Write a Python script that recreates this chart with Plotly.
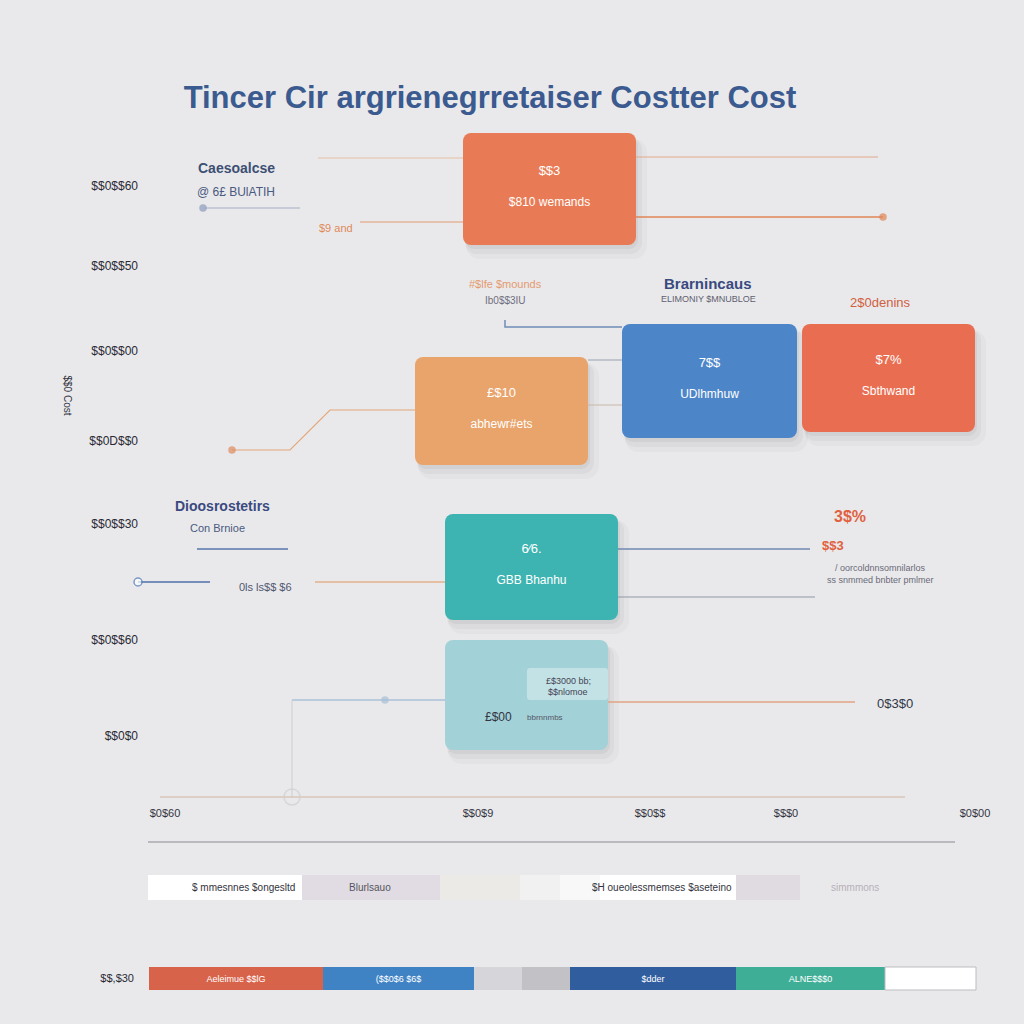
import plotly.graph_objects as go

# ---------------- data ----------------
title_text = "Tincer Cir argrienegrretaiser Costter Cost"

# cost boxes (x = start / length in cost units, y = centre / thickness in value units)
box_start = [313, 265, 472, 652, 295, 295]
box_length = [173, 173, 175, 173, 173, 163]
box_center = [611, 389, 419, 422, 233, 105]
box_thick = [112, 108, 114, 108, 106, 110]
box_colors = ["#e87b55", "#e9a46b", "#4d86c8", "#e96e51", "#3db4b1", "#a2d1d7"]
box_line1 = ["$$3", "£$10", "7$$", "$7%", "6⁄6.", ""]
box_line2 = ["$810 wemands", "abhewr#ets", "UDlhmhuw", "Sbthwand", "GBB Bhanhu", ""]

# y axis ticks
y_tickvals = [614, 534, 449, 359, 276, 160, 64]
y_ticktext = ["$$0$$60", "$$0$$50", "$$0$$00", "$$0D$$0", "$$0$$30", "$$0$$60", "$$0$0"]
# x axis ticks
x_tickvals = [15, 328, 500, 636, 825]
x_ticktext = ["$0$60", "$$0$9", "$$0$$", "$$$0", "$0$00"]

# connector lines: (x list, y list, colour, width)
connectors = [
    ([168, 313], [642, 642], "#e8bea3", 1.2),
    ([486, 728], [643, 643], "#e3aa8c", 1.2),
    ([210, 313], [578, 578], "#e39a70", 1.2),
    ([486, 733], [583, 583], "#e08656", 1.5),
    ([55, 150], [592, 592], "#a5b0c6", 1.2),
    ([355, 355, 472], [480, 473, 473], "#6f8cb8", 1.5),
    ([438, 472], [440, 440], "#9aa2b0", 1.2),
    ([438, 472], [395, 395], "#c8b8a8", 1.2),
    ([82, 140, 180, 265], [350, 350, 390, 390], "#e3a679", 1.2),
    ([47, 138], [251, 251], "#5674aa", 1.5),
    ([468, 660], [251, 251], "#7089b2", 1.5),
    ([468, 665], [203, 203], "#8f97a8", 1.2),
    ([-12, 60], [218, 218], "#4f70a8", 1.5),
    ([165, 295], [218, 218], "#e2b08c", 1.5),
    ([142, 295], [100, 100], "#a9c1d8", 1.5),
    ([458, 705], [98, 98], "#e2a282", 1.5),
    ([142, 142], [100, 3], "#d3d3d6", 1.2),
    ([10, 755], [3, 3], "#d9c6b6", 1.5),
]
dots_x = [-12, 53, 733, 82, 235, 142]
dots_y = [218, 592, 583, 350, 100, 3]
dots_color = ["#ffffff", "#8d9cbc", "#e08656", "#e08a60", "#a9c1d8", "rgba(0,0,0,0)"]
dots_size = [8, 6, 6, 6, 6, 16]
dots_line = ["#4f78b8", "#8d9cbc", "#e08656", "#e08a60", "#a9c1d8", "#cfcfd2"]

# free labels: text, x, y, colour, size, bold
labels = [
    ("Caesoalcse", 86, 632, "#3d4f73", 14, True),
    ("@ 6£ BUlATIH", 86, 608, "#4a5a80", 12, False),
    ("$9 and", 186, 572, "#e08a5a", 11, False),
    ("#$lfe $mounds", 355, 516, "#e49a70", 11, False),
    ("Ib0$$3IU", 355, 500, "#6f6f80", 10, False),
    ("Brarnincaus", 558, 517, "#3a4a80", 15, True),
    ("ELIMONIY $MNUBLOE", 558, 501, "#606070", 9, False),
    ("2$0denins", 730, 498, "#d06040", 13, False),
    ("Dioosrostetirs", 72, 294, "#3a4a80", 14, True),
    ("Con Brnioe", 67, 272, "#4a5a80", 11, False),
    ("0ls ls$$ $6", 115, 213, "#505870", 11, False),
    ("3$%", 700, 284, "#e06040", 16, True),
    ("$$3", 683, 255, "#e06040", 13, True),
    ("/ oorcoldnnsomnilarlos", 730, 232, "#6a6a78", 9, False),
    ("ss snmmed bnbter pmlmer", 730, 220, "#6a6a78", 9, False),
    ("0$3$0", 745, 97, "#303848", 13, False),
    ("£$3000 bb;", 418, 119, "#444455", 9, False),
    ("$$nlomoe", 418, 108, "#444455", 9, False),
    ("£$00", 348, 83, "#333344", 12, False),
    ("bbrnnmbs", 395, 83, "#555566", 8, False),
]

# bottom strips (second value axis)
strip1_start = [-2, 152, 290, 370, 410, 450, 586]
strip1_len = [154, 138, 80, 40, 40, 136, 64]
strip1_colors = ["#ffffff", "#e1dce3", "#ebeae7", "#f1f1f1", "#f8f8f8", "#ffffff", "#e0dbe0"]
strip1_texts = [("$ mmesnnes $ongesltd", 147, "right", "#333340"),
                ("Blurlsauo", 220, "center", "#555560"),
                ("$H oueolessmemses $aseteino", 584, "right", "#333340"),
                ("simmmons", 705, "center", "#b8b0b8")]
strip2_start = [-1, 173, 324, 372, 420, 586, 735]
strip2_len = [174, 151, 48, 48, 166, 149, 91]
strip2_colors = ["#d7634a", "#3f83c4", "#d6d6da", "#c2c2c6", "#305d9d", "#3fae96", "#ffffff"]
strip2_texts = ["Aeleimue $$lG", "($$0$6 $6$", "", "", "$dder", "ALNE$$$0", ""]
strip_y = [136.5, 45.5]
strip_thick = [25, 23]
strip2_tick = "$$,$30"
sep_line_x = [-2, 805]
sep_line_y = [182, 182]

FONT = "Liberation Sans, Arial, sans-serif"
BG = "#e9e9eb"

fig = go.Figure()

# soft shadows of boxes
for dx, dy, grow, alpha, rad in [(7, -10, 8, 0.05, 14), (4, -7, 4, 0.07, 12), (2, -4, 0, 0.09, 9)]:
    fig.add_trace(go.Bar(
        orientation="h", base=[s + dx - grow / 2 for s in box_start],
        x=[l + grow for l in box_length],
        y=[c + dy for c in box_center], width=[t + grow for t in box_thick],
        marker=dict(color=f"rgba(110,110,125,{alpha})", cornerradius=rad, line=dict(width=0)),
        hoverinfo="skip", showlegend=False))
# boxes
fig.add_trace(go.Bar(
    orientation="h", base=box_start, x=box_length, y=box_center, width=box_thick,
    marker=dict(color=box_colors, cornerradius=8, line=dict(width=0)),
    hoverinfo="skip", showlegend=False))
# inner highlight of last box
fig.add_trace(go.Bar(
    orientation="h", base=[377], x=[81], y=[116], width=[32],
    marker=dict(color="rgba(236,246,249,0.45)", cornerradius=3, line=dict(width=0)),
    hoverinfo="skip", showlegend=False))

# box labels
fig.add_trace(go.Scatter(
    x=[s + l / 2 for s, l in zip(box_start, box_length)],
    y=[c + 17 for c in box_center], mode="text", text=box_line1,
    textfont=dict(family=FONT, size=13, color="white"), hoverinfo="skip", showlegend=False))
fig.add_trace(go.Scatter(
    x=[s + l / 2 for s, l in zip(box_start, box_length)],
    y=[c - 14 for c in box_center], mode="text", text=box_line2,
    textfont=dict(family=FONT, size=12, color="white"), hoverinfo="skip", showlegend=False))

# connectors
for cx, cy, col, w in connectors:
    fig.add_trace(go.Scatter(x=cx, y=cy, mode="lines", line=dict(color=col, width=w),
                             hoverinfo="skip", showlegend=False))
fig.add_trace(go.Scatter(
    x=dots_x, y=dots_y, mode="markers", cliponaxis=False,
    marker=dict(size=dots_size, color=dots_color, line=dict(color=dots_line, width=1.5)),
    hoverinfo="skip", showlegend=False))

# free labels
for t, lx, ly, col, sz, b in labels:
    fig.add_annotation(x=lx, y=ly, xref="x", yref="y", text=f"<b>{t}</b>" if b else t,
                       showarrow=False, font=dict(family=FONT, size=sz, color=col))

# bottom strips
fig.add_trace(go.Bar(
    orientation="h", base=strip1_start, x=strip1_len, y=[strip_y[0]] * len(strip1_start),
    width=strip_thick[0], yaxis="y2", marker=dict(color=strip1_colors, line=dict(width=0)),
    hoverinfo="skip", showlegend=False))
for t, tx, al, col in strip1_texts:
    fig.add_annotation(x=tx, y=strip_y[0], xref="x", yref="y2", text=t, showarrow=False,
                       xanchor=al, font=dict(family=FONT, size=10, color=col))
fig.add_trace(go.Bar(
    orientation="h", base=strip2_start, x=strip2_len, y=[strip_y[1]] * len(strip2_start),
    width=strip_thick[1], yaxis="y2", text=strip2_texts, textposition="inside",
    insidetextanchor="middle", textfont=dict(family=FONT, size=9, color="white"),
    marker=dict(color=strip2_colors, line=dict(color=["rgba(0,0,0,0)"] * 6 + ["#bdbdc2"], width=1)),
    hoverinfo="skip", showlegend=False))
fig.add_trace(go.Scatter(x=sep_line_x, y=sep_line_y, yaxis="y2", mode="lines",
                         line=dict(color="#8a8a92", width=1.2), hoverinfo="skip", showlegend=False))

# y axis title (rotated)
fig.add_annotation(x=60 / 1024, y=1 - 395 / 1024, xref="paper", yref="paper", text="$$0 Cost",
                   textangle=90, showarrow=False, font=dict(family=FONT, size=10, color="#333340"))

fig.update_layout(
    width=1024, height=1024, margin=dict(l=0, r=0, t=0, b=0),
    paper_bgcolor=BG, plot_bgcolor=BG, barmode="overlay", showlegend=False,
    title=dict(text=f"<b>{title_text}</b>", x=490 / 1024, xanchor="center", y=1 - 97 / 1024,
               yanchor="middle", font=dict(family=FONT, size=31, color="#3b5a8f")),
    xaxis=dict(domain=[128 / 1024, 990 / 1024], range=[-22, 840], showgrid=False, zeroline=False,
               showline=False, tickmode="array", tickvals=x_tickvals, ticktext=x_ticktext,
               ticks="", ticklabelstandoff=5,
               tickfont=dict(family=FONT, size=11, color="#333340"), anchor="y"),
    yaxis=dict(domain=[1 - 800 / 1024, 1 - 130 / 1024], range=[0, 670], showgrid=False,
               zeroline=False, showline=False, tickmode="array", tickvals=y_tickvals,
               ticktext=y_ticktext, ticks="", ticklabelstandoff=10, anchor="free",
               position=148 / 1024,
               tickfont=dict(family=FONT, size=12, color="#2a2a35")),
    yaxis2=dict(domain=[0, 1 - 805 / 1024], range=[0, 219], showgrid=False, zeroline=False,
                showline=False, tickmode="array", tickvals=[strip_y[1]], ticktext=[strip2_tick],
                ticks="", ticklabelstandoff=14, tickfont=dict(family=FONT, size=11, color="#2a2a35"),
                anchor="free", position=148 / 1024),
)

fig.write_html("out.html")
